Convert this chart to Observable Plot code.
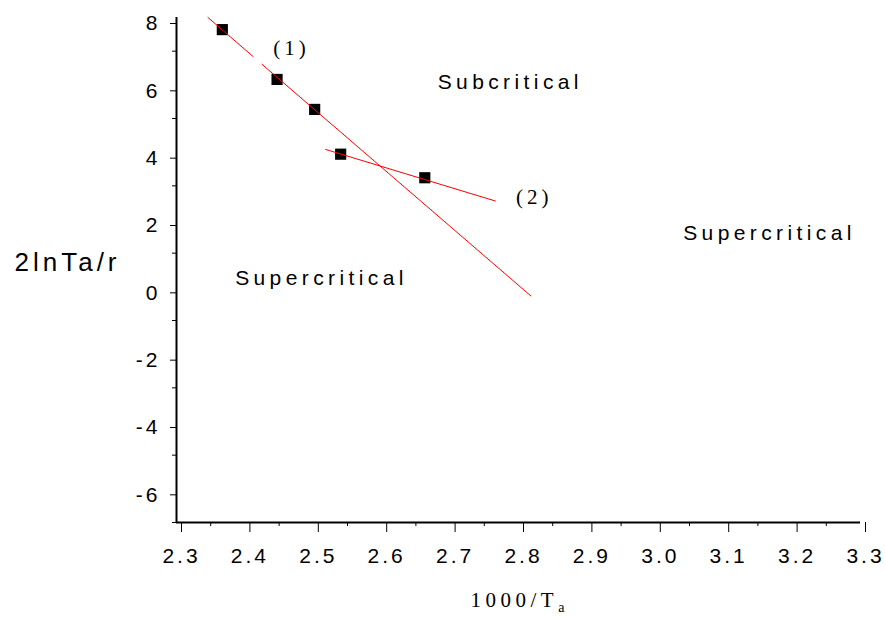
<!DOCTYPE html>
<html>
<head>
<meta charset="utf-8">
<script src="https://cdn.jsdelivr.net/npm/d3@7"></script>
<script src="https://cdn.jsdelivr.net/npm/@observablehq/plot@0.6"></script>
<style>
  html, body { margin: 0; padding: 0; background: #fff; }
</style>
</head>
<body>
<div id="chart"></div>
<script>
// Measured points
const pointX = [2.367, 2.447, 2.502, 2.540, 2.663];
const pointY = [7.64, 6.16, 5.27, 3.94, 3.24];

// Fitted line (1), drawn in two pieces (gap near its label)
const line1X = [2.346, 2.412, 2.425, 2.818];
const line1Y = [8.0, 6.84, 6.61, -0.27];
const line1Seg = ["a", "a", "b", "b"];

// Fitted line (2)
const line2X = [2.518, 2.766];
const line2Y = [4.08, 2.55];

// Line labels
const lineLabels = ["(1)", "(2)"];
const lineLabelX = [2.468, 2.823];
const lineLabelY = [7.09, 2.66];

// Region labels
const regionLabels = ["Subcritical", "Supercritical", "Supercritical"];
const regionX = [2.788, 3.167, 2.512];
const regionY = [6.07, 1.59, 0.26];

// Ticks
const xMajor = [2.3, 2.4, 2.5, 2.6, 2.7, 2.8, 2.9, 3.0, 3.1, 3.2, 3.3];
const xMinor = [2.35, 2.45, 2.55, 2.65, 2.75, 2.85, 2.95, 3.05, 3.15, 3.25];
const yMajor = [8, 6, 4, 2, 0, -2, -4, -6];
const yMinor = [7, 5, 3, 1, -1, -3, -5, -7];

const yTitle = "2lnTa/r";
const xTitleMain = "1000/T";
const xTitleSub = "a";

const points = pointX.map((x, i) => ({x, y: pointY[i]}));
const line1 = line1X.map((x, i) => ({x, y: line1Y[i], seg: line1Seg[i]}));
const line2 = line2X.map((x, i) => ({x, y: line2Y[i]}));
const lineLab = lineLabels.map((t, i) => ({t, x: lineLabelX[i], y: lineLabelY[i]}));
const regions = regionLabels.map((t, i) => ({t, x: regionX[i], y: regionY[i]}));

const sans = "'Liberation Sans', Arial, sans-serif";
const serif = "'Liberation Serif', 'Times New Roman', serif";

const chart = Plot.plot({
  width: 885,
  height: 619,
  marginLeft: 176,
  marginRight: 25,
  marginTop: 17,
  marginBottom: 97,
  style: {fontFamily: sans, fontSize: "21px", color: "#000", background: "#fff"},
  x: {domain: [2.3, 3.3]},
  y: {domain: [-7, 8]},
  marks: [
    Plot.axisX({ticks: xMajor, tickSize: 10, tickPadding: 16, tickFormat: d => d.toFixed(1),
      label: null, dx: 5, fontSize: 21}),
    Plot.axisX({ticks: xMinor, tickSize: 4, tickFormat: null, text: null, label: null}),
    Plot.axisY({ticks: yMajor, tickSize: 6, tickPadding: 10, tickFormat: d => String(d),
      label: null, dy: 6, fontSize: 21}),
    Plot.axisY({ticks: yMinor, tickSize: 4, tickFormat: null, text: null, label: null}),
    Plot.ruleX([2.3], {y1: -7, y2: 8, stroke: "#000", strokeWidth: 2}),
    Plot.ruleY([-7], {x1: 2.3, x2: 3.3, stroke: "#000", strokeWidth: 2}),
    Plot.dot(points, {x: "x", y: "y", symbol: "square", r: 6.3, fill: "#000", stroke: null}),
    Plot.line(line1, {x: "x", y: "y", z: "seg", stroke: "#ff0000", strokeWidth: 1}),
    Plot.line(line2, {x: "x", y: "y", stroke: "#ff0000", strokeWidth: 1}),
    Plot.text(lineLab, {x: "x", y: "y", text: "t", fontFamily: serif, fontSize: 21, fill: "#000"}),
    Plot.text(regions, {x: "x", y: "y", text: "t", fontSize: 21, fill: "#000"}),
    Plot.text([yTitle], {frameAnchor: "left", text: d => d, dx: -109, dy: -7, fontSize: 26,
      textAnchor: "middle", fill: "#000"}),
    Plot.text([xTitleMain], {frameAnchor: "bottom", text: d => d, dx: -48, dy: 84, fontSize: 21,
      fontFamily: serif, textAnchor: "start", fill: "#000"})
  ]
});

// Tick label fonts and letter spacing, as in the reference
const tickTexts = new Set([...xMajor.map(d => d.toFixed(1)), ...yMajor.map(String)]);
d3.select(chart).selectAll("text").each(function() {
  const t = this.textContent;
  if (tickTexts.has(t)) {
    this.setAttribute("font-size", "21");
    this.style.fontSize = "21px";
    this.style.letterSpacing = "3px";
  }
  if (t === "Subcritical" || t === "Supercritical") this.style.letterSpacing = "4.4px";
  if (t === yTitle) this.style.letterSpacing = "4px";
  if (t === "(1)" || t === "(2)") this.style.letterSpacing = "4px";
  if (t === xTitleMain) {
    this.style.letterSpacing = "4.5px";
    // subscript "a" of T_a
    d3.select(this).append("tspan")
      .attr("dy", "5")
      .style("font-size", "14px")
      .style("letter-spacing", "0px")
      .text(xTitleSub);
  }
});

document.getElementById("chart").appendChild(chart);
</script>
</body>
</html>
